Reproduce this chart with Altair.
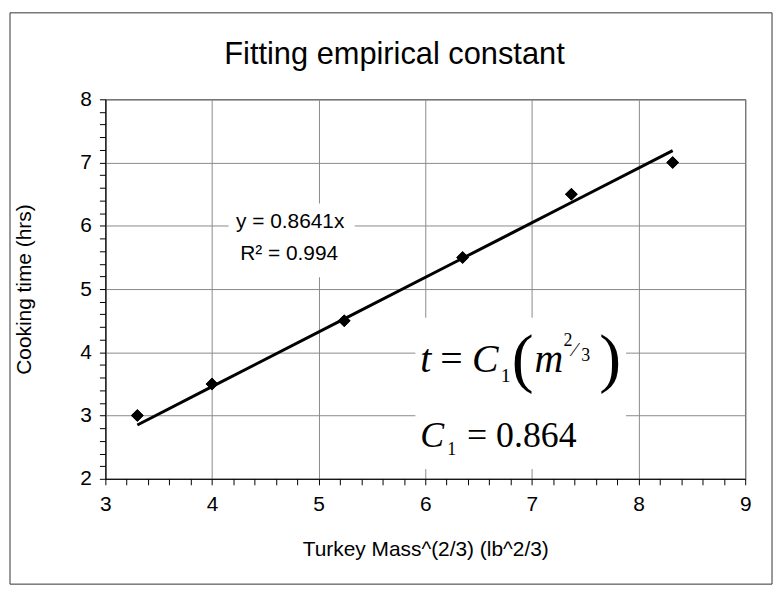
import altair as alt
import pandas as pd

# ---- data ----
mass_23 = [3.30, 4.00, 5.24, 6.35, 7.37, 8.32]      # Turkey Mass^(2/3)
cook_hours = [3.0, 3.5, 4.5, 5.5, 6.5, 7.0]         # Cooking time (hrs)
slope = 0.8641
x_ticks = [round(3 + 0.2 * i, 1) for i in range(31)]
y_ticks = [round(2 + 0.2 * i, 1) for i in range(31)]

df = pd.DataFrame({"m": mass_23, "t": cook_hours})
one = pd.DataFrame({"a": [0]})

W, H = 644, 382
FONT = "Liberation Sans"
SERIF = "Liberation Serif"
major = "datum.value % 1 === 0"
grid_op = {"condition": {"test": major, "value": 1}, "value": 0}

common = dict(
    labelExpr=f"{major} ? format(datum.value, 'd') : ''", tickCount=40,
    labelOverlap=False, labelFlush=False, grid=True, gridColor="#8a8a8a",
    gridOpacity=grid_op, tickColor="black", tickSize=6, domainColor="black",
    labelFontSize=21, labelFont=FONT, labelColor="black",
    titleFont=FONT, titleFontWeight="normal", titleColor="black",
)
xaxis = alt.Axis(values=x_ticks, labelPadding=9, title="Turkey Mass^(2/3) (lb^2/3)",
                 titleFontSize=21, titlePadding=24, **common)
yaxis = alt.Axis(values=y_ticks, labelPadding=8, title="Cooking time (hrs)",
                 titleFontSize=21, titlePadding=46, **common)
xs = alt.Scale(domain=[3, 9], nice=False, zero=False)
ys = alt.Scale(domain=[2, 8], nice=False, zero=False)

base = alt.Chart(df)

points = base.mark_point(shape="diamond", filled=True, color="black", size=160, opacity=1).encode(
    x=alt.X("m:Q", scale=xs, axis=xaxis),
    y=alt.Y("t:Q", scale=ys, axis=yaxis),
)

fit = base.transform_calculate(fitted=f"{slope} * datum.m").mark_line(
    color="black", strokeWidth=3
).encode(x=alt.X("m:Q", scale=xs), y=alt.Y("fitted:Q", scale=ys))


def box(x1, y1, x2, y2):
    return alt.Chart(one).mark_rect(fill="white").encode(
        x=alt.value(x1), x2=alt.value(x2), y=alt.value(y1), y2=alt.value(y2)
    )


def txt(s, x, y, size, font=FONT, style="normal", align="left", baseline="alphabetic"):
    return alt.Chart(one).mark_text(
        text=s, font=font, fontSize=size, fontStyle=style, align=align,
        baseline=baseline, color="black",
    ).encode(x=alt.value(x), y=alt.value(y))


eq_box = box(124, 105, 251, 179)
form_box = box(312, 220, 524, 372)
outer = alt.Chart(one).mark_rect(fill=None, stroke="#333333", strokeWidth=1).encode(
    x=alt.value(-96), x2=alt.value(671), y=alt.value(-87), y2=alt.value(488)
)

title = txt("Fitting empirical constant", 291, -36, 31, align="center")
eq1 = txt("y = 0.8641x", 186, 124, 21, align="center", baseline="middle")
eq2 = txt("R² = 0.994", 185, 156, 21, align="center", baseline="middle")

f_parts = [
    txt("t", 317, 274, 40, SERIF, "italic"),
    txt("=", 337, 274, 40, SERIF),
    txt("C", 369, 274, 40, SERIF, "italic"),
    txt("1", 398, 285, 20, SERIF),
    txt("(", 409, 283, 66, SERIF),
    txt("m", 432, 274, 40, SERIF, "italic"),
    txt("2", 461, 248, 18, SERIF),
    txt("⁄", 471, 258, 20, SERIF),
    txt("3", 479, 263, 18, SERIF),
    txt(")", 497, 283, 66, SERIF),
    txt("C", 317, 350, 36, SERIF, "italic"),
    txt("1", 344, 358, 18, SERIF),
    txt("= 0.864", 364, 350, 36, SERIF),
]

chart = alt.layer(
    points, eq_box, form_box, fit, points, title, eq1, eq2, *f_parts, outer
).properties(
    width=W, height=H,
    autosize=alt.AutoSizeParams(type="none"),
    padding={"left": 98, "top": 90, "right": 30, "bottom": 108},
    background="white",
).configure_view(stroke="black", strokeWidth=1)

chart.save("out.html", embed_options={"renderer": "svg", "actions": False})
